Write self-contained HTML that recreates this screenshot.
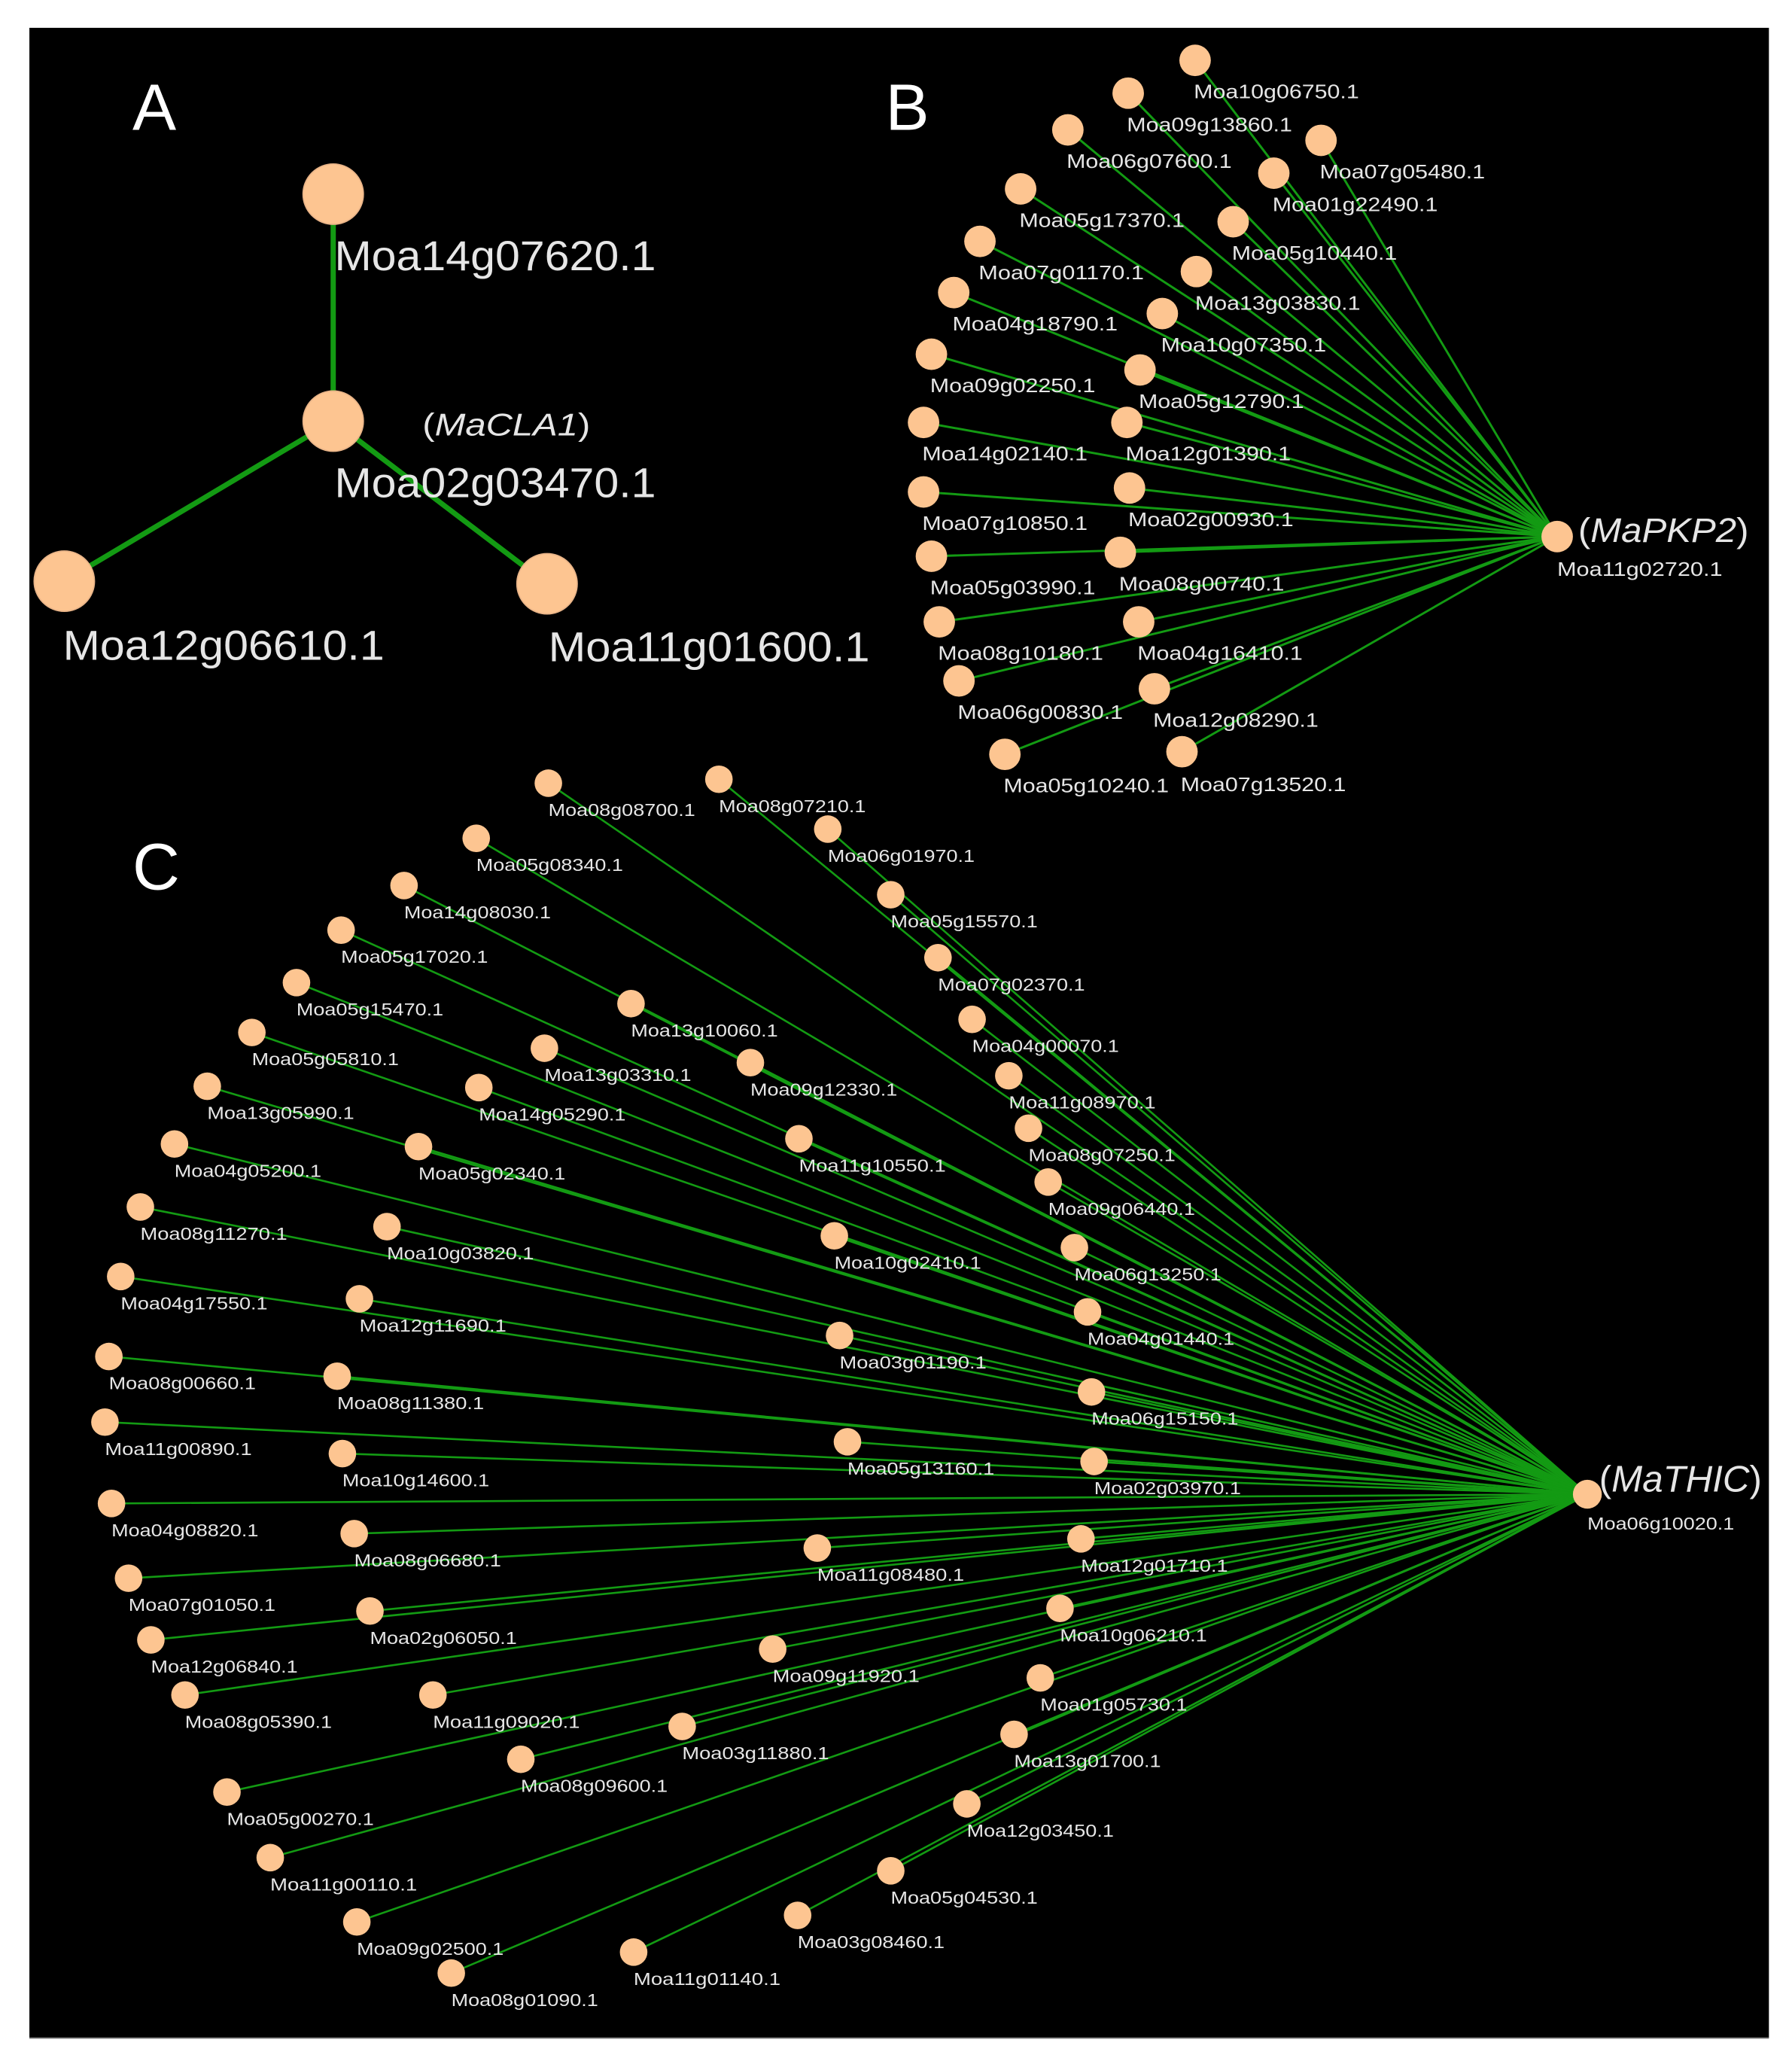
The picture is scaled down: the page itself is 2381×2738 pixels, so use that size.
<!DOCTYPE html>
<html><head><meta charset="utf-8"><style>
html,body{margin:0;padding:0;background:#fff;}
svg{display:block;}
text{font-family:"Liberation Sans",Arial,sans-serif;fill:#e6e6e6;}
.b{font-size:15px;}
.c{font-size:13.5px;}
.a{font-size:32px;}
</style></head><body>
<svg width="2381" height="2738" viewBox="0 0 1366 1571" preserveAspectRatio="none" xmlns="http://www.w3.org/2000/svg">
<rect x="0" y="0" width="1366" height="1571" fill="#fff"/>
<rect x="22.4" y="21.2" width="1326" height="1532.3" fill="#000"/>
<line x1="22.4" y1="1553.5" x2="1348.4" y2="1553.5" stroke="#777" stroke-width="1"/>

<!-- Panel A -->
<g stroke="#139a13" stroke-width="4">
<line x1="254" y1="321" x2="254" y2="148"/>
<line x1="254" y1="321" x2="49" y2="443"/>
<line x1="254" y1="321" x2="417" y2="445"/>
</g>
<g fill="#fdc591" stroke="#e9b488" stroke-width="1">
<circle cx="254" cy="148" r="23"/>
<circle cx="254" cy="321" r="23"/>
<circle cx="49" cy="443" r="23"/>
<circle cx="417" cy="445" r="23"/>
</g>
<text x="101" y="99" style="font-size:50px;fill:#fff">A</text>
<text x="675" y="99" style="font-size:50px;fill:#fff">B</text>
<text x="101" y="678" style="font-size:50px;fill:#fff">C</text>
<text class="a" x="255" y="206" textLength="245" lengthAdjust="spacingAndGlyphs">Moa14g07620.1</text>
<text x="322" y="332" style="font-size:24px" textLength="128" lengthAdjust="spacingAndGlyphs">(<tspan font-style="italic">MaCLA1</tspan>)</text>
<text class="a" x="255" y="379" textLength="245" lengthAdjust="spacingAndGlyphs">Moa02g03470.1</text>
<text class="a" x="48" y="503" textLength="245" lengthAdjust="spacingAndGlyphs">Moa12g06610.1</text>
<text class="a" x="418" y="504" textLength="245" lengthAdjust="spacingAndGlyphs">Moa11g01600.1</text>

<!-- Panel B edges -->
<g stroke="#139a13" stroke-width="1.7">
<line x1="1187" y1="409" x2="911" y2="46"/>
<line x1="1187" y1="409" x2="860" y2="71"/>
<line x1="1187" y1="409" x2="814" y2="99"/>
<line x1="1187" y1="409" x2="1007" y2="107"/>
<line x1="1187" y1="409" x2="971" y2="132"/>
<line x1="1187" y1="409" x2="778" y2="144"/>
<line x1="1187" y1="409" x2="940" y2="169"/>
<line x1="1187" y1="409" x2="747" y2="184"/>
<line x1="1187" y1="409" x2="912" y2="207"/>
<line x1="1187" y1="409" x2="727" y2="223"/>
<line x1="1187" y1="409" x2="886" y2="239"/>
<line x1="1187" y1="409" x2="710" y2="270"/>
<line x1="1187" y1="409" x2="869" y2="282"/>
<line x1="1187" y1="409" x2="704" y2="322"/>
<line x1="1187" y1="409" x2="859" y2="322"/>
<line x1="1187" y1="409" x2="704" y2="375"/>
<line x1="1187" y1="409" x2="861" y2="372"/>
<line x1="1187" y1="409" x2="710" y2="424"/>
<line x1="1187" y1="409" x2="854" y2="421"/>
<line x1="1187" y1="409" x2="716" y2="474"/>
<line x1="1187" y1="409" x2="868" y2="474"/>
<line x1="1187" y1="409" x2="731" y2="519"/>
<line x1="1187" y1="409" x2="880" y2="525"/>
<line x1="1187" y1="409" x2="766" y2="575"/>
<line x1="1187" y1="409" x2="901" y2="573"/>
</g>
<g fill="#fdc591">
<circle cx="1187" cy="409" r="12"/>
<circle cx="911" cy="46" r="12"/><circle cx="860" cy="71" r="12"/><circle cx="814" cy="99" r="12"/>
<circle cx="1007" cy="107" r="12"/><circle cx="971" cy="132" r="12"/><circle cx="778" cy="144" r="12"/>
<circle cx="940" cy="169" r="12"/><circle cx="747" cy="184" r="12"/><circle cx="912" cy="207" r="12"/>
<circle cx="727" cy="223" r="12"/><circle cx="886" cy="239" r="12"/><circle cx="710" cy="270" r="12"/>
<circle cx="869" cy="282" r="12"/><circle cx="704" cy="322" r="12"/><circle cx="859" cy="322" r="12"/>
<circle cx="704" cy="375" r="12"/><circle cx="861" cy="372" r="12"/><circle cx="710" cy="424" r="12"/>
<circle cx="854" cy="421" r="12"/><circle cx="716" cy="474" r="12"/><circle cx="868" cy="474" r="12"/>
<circle cx="731" cy="519" r="12"/><circle cx="880" cy="525" r="12"/><circle cx="766" cy="575" r="12"/>
<circle cx="901" cy="573" r="12"/>
</g>
<g class="b" lengthAdjust="spacingAndGlyphs">
<text class="b" x="910" y="75" textLength="126" lengthAdjust="spacingAndGlyphs">Moa10g06750.1</text>
<text class="b" x="859" y="100" textLength="126" lengthAdjust="spacingAndGlyphs">Moa09g13860.1</text>
<text class="b" x="813" y="128" textLength="126" lengthAdjust="spacingAndGlyphs">Moa06g07600.1</text>
<text class="b" x="1006" y="136" textLength="126" lengthAdjust="spacingAndGlyphs">Moa07g05480.1</text>
<text class="b" x="970" y="161" textLength="126" lengthAdjust="spacingAndGlyphs">Moa01g22490.1</text>
<text class="b" x="777" y="173" textLength="126" lengthAdjust="spacingAndGlyphs">Moa05g17370.1</text>
<text class="b" x="939" y="198" textLength="126" lengthAdjust="spacingAndGlyphs">Moa05g10440.1</text>
<text class="b" x="746" y="213" textLength="126" lengthAdjust="spacingAndGlyphs">Moa07g01170.1</text>
<text class="b" x="911" y="236" textLength="126" lengthAdjust="spacingAndGlyphs">Moa13g03830.1</text>
<text class="b" x="726" y="252" textLength="126" lengthAdjust="spacingAndGlyphs">Moa04g18790.1</text>
<text class="b" x="885" y="268" textLength="126" lengthAdjust="spacingAndGlyphs">Moa10g07350.1</text>
<text class="b" x="709" y="299" textLength="126" lengthAdjust="spacingAndGlyphs">Moa09g02250.1</text>
<text class="b" x="868" y="311" textLength="126" lengthAdjust="spacingAndGlyphs">Moa05g12790.1</text>
<text class="b" x="703" y="351" textLength="126" lengthAdjust="spacingAndGlyphs">Moa14g02140.1</text>
<text class="b" x="858" y="351" textLength="126" lengthAdjust="spacingAndGlyphs">Moa12g01390.1</text>
<text class="b" x="703" y="404" textLength="126" lengthAdjust="spacingAndGlyphs">Moa07g10850.1</text>
<text class="b" x="860" y="401" textLength="126" lengthAdjust="spacingAndGlyphs">Moa02g00930.1</text>
<text class="b" x="709" y="453" textLength="126" lengthAdjust="spacingAndGlyphs">Moa05g03990.1</text>
<text class="b" x="853" y="450" textLength="126" lengthAdjust="spacingAndGlyphs">Moa08g00740.1</text>
<text class="b" x="715" y="503" textLength="126" lengthAdjust="spacingAndGlyphs">Moa08g10180.1</text>
<text class="b" x="867" y="503" textLength="126" lengthAdjust="spacingAndGlyphs">Moa04g16410.1</text>
<text class="b" x="730" y="548" textLength="126" lengthAdjust="spacingAndGlyphs">Moa06g00830.1</text>
<text class="b" x="879" y="554" textLength="126" lengthAdjust="spacingAndGlyphs">Moa12g08290.1</text>
<text class="b" x="765" y="604" textLength="126" lengthAdjust="spacingAndGlyphs">Moa05g10240.1</text>
<text class="b" x="900" y="603" textLength="126" lengthAdjust="spacingAndGlyphs">Moa07g13520.1</text>
</g>
<text x="1203" y="413" style="font-size:26px" textLength="130" lengthAdjust="spacingAndGlyphs">(<tspan font-style="italic">MaPKP2</tspan>)</text>
<text class="b" x="1187" y="439" textLength="126" lengthAdjust="spacingAndGlyphs">Moa11g02720.1</text>

<!-- Panel C edges -->
<g stroke="#139a13" stroke-width="1.5">
<line x1="1210" y1="1139" x2="418" y2="597"/>
<line x1="1210" y1="1139" x2="548" y2="594"/>
<line x1="1210" y1="1139" x2="631" y2="632"/>
<line x1="1210" y1="1139" x2="363" y2="639"/>
<line x1="1210" y1="1139" x2="308" y2="675"/>
<line x1="1210" y1="1139" x2="679" y2="682"/>
<line x1="1210" y1="1139" x2="260" y2="709"/>
<line x1="1210" y1="1139" x2="715" y2="730"/>
<line x1="1210" y1="1139" x2="226" y2="749"/>
<line x1="1210" y1="1139" x2="481" y2="765"/>
<line x1="1210" y1="1139" x2="741" y2="777"/>
<line x1="1210" y1="1139" x2="192" y2="787"/>
<line x1="1210" y1="1139" x2="415" y2="799"/>
<line x1="1210" y1="1139" x2="572" y2="810"/>
<line x1="1210" y1="1139" x2="769" y2="820"/>
<line x1="1210" y1="1139" x2="158" y2="828"/>
<line x1="1210" y1="1139" x2="365" y2="829"/>
<line x1="1210" y1="1139" x2="784" y2="860"/>
<line x1="1210" y1="1139" x2="133" y2="872"/>
<line x1="1210" y1="1139" x2="319" y2="874"/>
<line x1="1210" y1="1139" x2="609" y2="868"/>
<line x1="1210" y1="1139" x2="799" y2="901"/>
<line x1="1210" y1="1139" x2="107" y2="920"/>
<line x1="1210" y1="1139" x2="295" y2="935"/>
<line x1="1210" y1="1139" x2="636" y2="942"/>
<line x1="1210" y1="1139" x2="819" y2="951"/>
<line x1="1210" y1="1139" x2="92" y2="973"/>
<line x1="1210" y1="1139" x2="274" y2="990"/>
<line x1="1210" y1="1139" x2="829" y2="1000"/>
<line x1="1210" y1="1139" x2="640" y2="1018"/>
<line x1="1210" y1="1139" x2="83" y2="1034"/>
<line x1="1210" y1="1139" x2="257" y2="1049"/>
<line x1="1210" y1="1139" x2="832" y2="1061"/>
<line x1="1210" y1="1139" x2="80" y2="1084"/>
<line x1="1210" y1="1139" x2="646" y2="1099"/>
<line x1="1210" y1="1139" x2="261" y2="1108"/>
<line x1="1210" y1="1139" x2="834" y2="1114"/>
<line x1="1210" y1="1139" x2="85" y2="1146"/>
<line x1="1210" y1="1139" x2="270" y2="1169"/>
<line x1="1210" y1="1139" x2="824" y2="1173"/>
<line x1="1210" y1="1139" x2="623" y2="1180"/>
<line x1="1210" y1="1139" x2="98" y2="1203"/>
<line x1="1210" y1="1139" x2="282" y2="1228"/>
<line x1="1210" y1="1139" x2="808" y2="1226"/>
<line x1="1210" y1="1139" x2="115" y2="1250"/>
<line x1="1210" y1="1139" x2="589" y2="1257"/>
<line x1="1210" y1="1139" x2="793" y2="1279"/>
<line x1="1210" y1="1139" x2="141" y2="1292"/>
<line x1="1210" y1="1139" x2="330" y2="1292"/>
<line x1="1210" y1="1139" x2="520" y2="1316"/>
<line x1="1210" y1="1139" x2="773" y2="1322"/>
<line x1="1210" y1="1139" x2="397" y2="1341"/>
<line x1="1210" y1="1139" x2="173" y2="1366"/>
<line x1="1210" y1="1139" x2="737" y2="1375"/>
<line x1="1210" y1="1139" x2="206" y2="1416"/>
<line x1="1210" y1="1139" x2="679" y2="1426"/>
<line x1="1210" y1="1139" x2="272" y2="1465"/>
<line x1="1210" y1="1139" x2="608" y2="1460"/>
<line x1="1210" y1="1139" x2="344" y2="1504"/>
<line x1="1210" y1="1139" x2="483" y2="1488"/>
</g>
<g fill="#fdc591">
<circle cx="1210" cy="1139" r="11"/>
<circle cx="418" cy="597" r="10.5"/><circle cx="548" cy="594" r="10.5"/><circle cx="631" cy="632" r="10.5"/>
<circle cx="363" cy="639" r="10.5"/><circle cx="308" cy="675" r="10.5"/><circle cx="679" cy="682" r="10.5"/>
<circle cx="260" cy="709" r="10.5"/><circle cx="715" cy="730" r="10.5"/><circle cx="226" cy="749" r="10.5"/>
<circle cx="481" cy="765" r="10.5"/><circle cx="741" cy="777" r="10.5"/><circle cx="192" cy="787" r="10.5"/>
<circle cx="415" cy="799" r="10.5"/><circle cx="572" cy="810" r="10.5"/><circle cx="769" cy="820" r="10.5"/>
<circle cx="158" cy="828" r="10.5"/><circle cx="365" cy="829" r="10.5"/><circle cx="784" cy="860" r="10.5"/>
<circle cx="133" cy="872" r="10.5"/><circle cx="319" cy="874" r="10.5"/><circle cx="609" cy="868" r="10.5"/>
<circle cx="799" cy="901" r="10.5"/><circle cx="107" cy="920" r="10.5"/><circle cx="295" cy="935" r="10.5"/>
<circle cx="636" cy="942" r="10.5"/><circle cx="819" cy="951" r="10.5"/><circle cx="92" cy="973" r="10.5"/>
<circle cx="274" cy="990" r="10.5"/><circle cx="829" cy="1000" r="10.5"/><circle cx="640" cy="1018" r="10.5"/>
<circle cx="83" cy="1034" r="10.5"/><circle cx="257" cy="1049" r="10.5"/><circle cx="832" cy="1061" r="10.5"/>
<circle cx="80" cy="1084" r="10.5"/><circle cx="646" cy="1099" r="10.5"/><circle cx="261" cy="1108" r="10.5"/>
<circle cx="834" cy="1114" r="10.5"/><circle cx="85" cy="1146" r="10.5"/><circle cx="270" cy="1169" r="10.5"/>
<circle cx="824" cy="1173" r="10.5"/><circle cx="623" cy="1180" r="10.5"/><circle cx="98" cy="1203" r="10.5"/>
<circle cx="282" cy="1228" r="10.5"/><circle cx="808" cy="1226" r="10.5"/><circle cx="115" cy="1250" r="10.5"/>
<circle cx="589" cy="1257" r="10.5"/><circle cx="793" cy="1279" r="10.5"/><circle cx="141" cy="1292" r="10.5"/>
<circle cx="330" cy="1292" r="10.5"/><circle cx="520" cy="1316" r="10.5"/><circle cx="773" cy="1322" r="10.5"/>
<circle cx="397" cy="1341" r="10.5"/><circle cx="173" cy="1366" r="10.5"/><circle cx="737" cy="1375" r="10.5"/>
<circle cx="206" cy="1416" r="10.5"/><circle cx="679" cy="1426" r="10.5"/><circle cx="272" cy="1465" r="10.5"/>
<circle cx="608" cy="1460" r="10.5"/><circle cx="344" cy="1504" r="10.5"/><circle cx="483" cy="1488" r="10.5"/>
</g>
<g>
<text class="c" x="418" y="622" textLength="112" lengthAdjust="spacingAndGlyphs">Moa08g08700.1</text>
<text class="c" x="548" y="619" textLength="112" lengthAdjust="spacingAndGlyphs">Moa08g07210.1</text>
<text class="c" x="631" y="657" textLength="112" lengthAdjust="spacingAndGlyphs">Moa06g01970.1</text>
<text class="c" x="363" y="664" textLength="112" lengthAdjust="spacingAndGlyphs">Moa05g08340.1</text>
<text class="c" x="308" y="700" textLength="112" lengthAdjust="spacingAndGlyphs">Moa14g08030.1</text>
<text class="c" x="679" y="707" textLength="112" lengthAdjust="spacingAndGlyphs">Moa05g15570.1</text>
<text class="c" x="260" y="734" textLength="112" lengthAdjust="spacingAndGlyphs">Moa05g17020.1</text>
<text class="c" x="715" y="755" textLength="112" lengthAdjust="spacingAndGlyphs">Moa07g02370.1</text>
<text class="c" x="226" y="774" textLength="112" lengthAdjust="spacingAndGlyphs">Moa05g15470.1</text>
<text class="c" x="481" y="790" textLength="112" lengthAdjust="spacingAndGlyphs">Moa13g10060.1</text>
<text class="c" x="741" y="802" textLength="112" lengthAdjust="spacingAndGlyphs">Moa04g00070.1</text>
<text class="c" x="192" y="812" textLength="112" lengthAdjust="spacingAndGlyphs">Moa05g05810.1</text>
<text class="c" x="415" y="824" textLength="112" lengthAdjust="spacingAndGlyphs">Moa13g03310.1</text>
<text class="c" x="572" y="835" textLength="112" lengthAdjust="spacingAndGlyphs">Moa09g12330.1</text>
<text class="c" x="769" y="845" textLength="112" lengthAdjust="spacingAndGlyphs">Moa11g08970.1</text>
<text class="c" x="158" y="853" textLength="112" lengthAdjust="spacingAndGlyphs">Moa13g05990.1</text>
<text class="c" x="365" y="854" textLength="112" lengthAdjust="spacingAndGlyphs">Moa14g05290.1</text>
<text class="c" x="784" y="885" textLength="112" lengthAdjust="spacingAndGlyphs">Moa08g07250.1</text>
<text class="c" x="133" y="897" textLength="112" lengthAdjust="spacingAndGlyphs">Moa04g05200.1</text>
<text class="c" x="319" y="899" textLength="112" lengthAdjust="spacingAndGlyphs">Moa05g02340.1</text>
<text class="c" x="609" y="893" textLength="112" lengthAdjust="spacingAndGlyphs">Moa11g10550.1</text>
<text class="c" x="799" y="926" textLength="112" lengthAdjust="spacingAndGlyphs">Moa09g06440.1</text>
<text class="c" x="107" y="945" textLength="112" lengthAdjust="spacingAndGlyphs">Moa08g11270.1</text>
<text class="c" x="295" y="960" textLength="112" lengthAdjust="spacingAndGlyphs">Moa10g03820.1</text>
<text class="c" x="636" y="967" textLength="112" lengthAdjust="spacingAndGlyphs">Moa10g02410.1</text>
<text class="c" x="819" y="976" textLength="112" lengthAdjust="spacingAndGlyphs">Moa06g13250.1</text>
<text class="c" x="92" y="998" textLength="112" lengthAdjust="spacingAndGlyphs">Moa04g17550.1</text>
<text class="c" x="274" y="1015" textLength="112" lengthAdjust="spacingAndGlyphs">Moa12g11690.1</text>
<text class="c" x="829" y="1025" textLength="112" lengthAdjust="spacingAndGlyphs">Moa04g01440.1</text>
<text class="c" x="640" y="1043" textLength="112" lengthAdjust="spacingAndGlyphs">Moa03g01190.1</text>
<text class="c" x="83" y="1059" textLength="112" lengthAdjust="spacingAndGlyphs">Moa08g00660.1</text>
<text class="c" x="257" y="1074" textLength="112" lengthAdjust="spacingAndGlyphs">Moa08g11380.1</text>
<text class="c" x="832" y="1086" textLength="112" lengthAdjust="spacingAndGlyphs">Moa06g15150.1</text>
<text class="c" x="80" y="1109" textLength="112" lengthAdjust="spacingAndGlyphs">Moa11g00890.1</text>
<text class="c" x="646" y="1124" textLength="112" lengthAdjust="spacingAndGlyphs">Moa05g13160.1</text>
<text class="c" x="261" y="1133" textLength="112" lengthAdjust="spacingAndGlyphs">Moa10g14600.1</text>
<text class="c" x="834" y="1139" textLength="112" lengthAdjust="spacingAndGlyphs">Moa02g03970.1</text>
<text class="c" x="85" y="1171" textLength="112" lengthAdjust="spacingAndGlyphs">Moa04g08820.1</text>
<text class="c" x="270" y="1194" textLength="112" lengthAdjust="spacingAndGlyphs">Moa08g06680.1</text>
<text class="c" x="824" y="1198" textLength="112" lengthAdjust="spacingAndGlyphs">Moa12g01710.1</text>
<text class="c" x="623" y="1205" textLength="112" lengthAdjust="spacingAndGlyphs">Moa11g08480.1</text>
<text class="c" x="98" y="1228" textLength="112" lengthAdjust="spacingAndGlyphs">Moa07g01050.1</text>
<text class="c" x="282" y="1253" textLength="112" lengthAdjust="spacingAndGlyphs">Moa02g06050.1</text>
<text class="c" x="808" y="1251" textLength="112" lengthAdjust="spacingAndGlyphs">Moa10g06210.1</text>
<text class="c" x="115" y="1275" textLength="112" lengthAdjust="spacingAndGlyphs">Moa12g06840.1</text>
<text class="c" x="589" y="1282" textLength="112" lengthAdjust="spacingAndGlyphs">Moa09g11920.1</text>
<text class="c" x="793" y="1304" textLength="112" lengthAdjust="spacingAndGlyphs">Moa01g05730.1</text>
<text class="c" x="141" y="1317" textLength="112" lengthAdjust="spacingAndGlyphs">Moa08g05390.1</text>
<text class="c" x="330" y="1317" textLength="112" lengthAdjust="spacingAndGlyphs">Moa11g09020.1</text>
<text class="c" x="520" y="1341" textLength="112" lengthAdjust="spacingAndGlyphs">Moa03g11880.1</text>
<text class="c" x="773" y="1347" textLength="112" lengthAdjust="spacingAndGlyphs">Moa13g01700.1</text>
<text class="c" x="397" y="1366" textLength="112" lengthAdjust="spacingAndGlyphs">Moa08g09600.1</text>
<text class="c" x="173" y="1391" textLength="112" lengthAdjust="spacingAndGlyphs">Moa05g00270.1</text>
<text class="c" x="737" y="1400" textLength="112" lengthAdjust="spacingAndGlyphs">Moa12g03450.1</text>
<text class="c" x="206" y="1441" textLength="112" lengthAdjust="spacingAndGlyphs">Moa11g00110.1</text>
<text class="c" x="679" y="1451" textLength="112" lengthAdjust="spacingAndGlyphs">Moa05g04530.1</text>
<text class="c" x="272" y="1490" textLength="112" lengthAdjust="spacingAndGlyphs">Moa09g02500.1</text>
<text class="c" x="608" y="1485" textLength="112" lengthAdjust="spacingAndGlyphs">Moa03g08460.1</text>
<text class="c" x="344" y="1529" textLength="112" lengthAdjust="spacingAndGlyphs">Moa08g01090.1</text>
<text class="c" x="483" y="1513" textLength="112" lengthAdjust="spacingAndGlyphs">Moa11g01140.1</text>
</g>
<text x="1219" y="1137" style="font-size:28px" textLength="124" lengthAdjust="spacingAndGlyphs">(<tspan font-style="italic">MaTHIC</tspan>)</text>
<text class="c" x="1210" y="1166" textLength="112" lengthAdjust="spacingAndGlyphs">Moa06g10020.1</text>
</svg>
</body></html>
